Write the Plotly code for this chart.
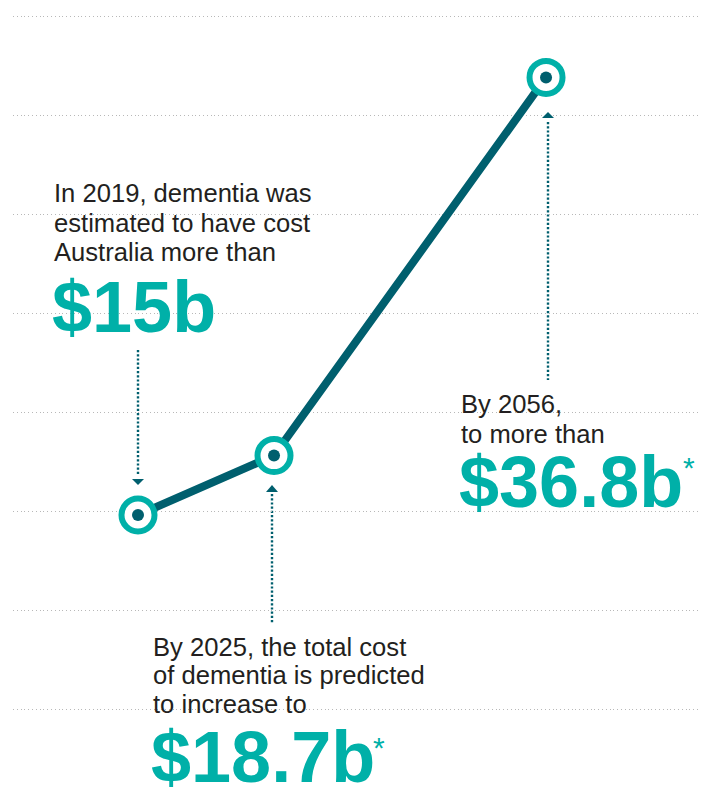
import plotly.graph_objects as go

# ---- data ----
years = ["2019", "2025", "2056"]
slots = [0, 1, 3]                     # horizontal slot of each year on the stylised axis
plotted_cost = [14.8, 17.8, 36.9]     # marker heights ($b)
labels_big = ["$15b", "$18.7b", "$36.8b"]
grid_values = [5, 10, 15, 20, 25, 30, 35, 40]

# ---- styles ----
DARK = "#005f6e"
TEAL = "#00b0a8"
TEXT = "#231f20"
FONT = "Liberation Sans, Arial, Helvetica, sans-serif"
W, H = 706, 800
ML, MR = 13, 6
XR = [-0.919, 4.132]
YR = [0.404, 40.81]

def xp(px):
    return (px - ML) / (W - ML - MR)

def yp(py):
    return 1 - py / H

def slot_px(s):
    return ML + (W - ML - MR) * (s - XR[0]) / (XR[1] - XR[0])

fig = go.Figure()
fig.add_trace(go.Scatter(
    x=slots, y=plotted_cost, mode="lines",
    line=dict(color=DARK, width=8), hoverinfo="skip", showlegend=False))
fig.add_trace(go.Scatter(
    x=slots, y=plotted_cost, mode="markers",
    marker=dict(size=33, color="white", line=dict(color=TEAL, width=6)),
    text=years, hoverinfo="text", showlegend=False))
fig.add_trace(go.Scatter(
    x=slots, y=plotted_cost, mode="markers",
    marker=dict(size=12, color=DARK), hoverinfo="skip", showlegend=False))

shapes = []
# white blocks hiding gridlines behind text
for (x0, y0, x1, y1) in [(43, 178, 323, 340), (450, 395, 572, 421),
                         (450, 448, 700, 516), (142, 695, 320, 721)]:
    shapes.append(dict(type="rect", xref="paper", yref="paper", layer="between",
                       x0=xp(x0), x1=xp(x1), y0=yp(y1), y1=yp(y0),
                       fillcolor="white", line=dict(width=0)))

# dotted arrows: (slot, line top, line bottom, tip y, base y)
arrows = [(slots[0], 350, 474, 485, 479),
          (slots[1], 494, 623, 485, 492),
          (slots[2], 122, 380, 112, 118)]
for s, ya, yb, tip, base in arrows:
    px = round(slot_px(s)) + (-2 if s == 1 else 2 if s == 3 else 0)
    shapes.append(dict(type="line", xref="paper", yref="paper", layer="between",
                       x0=xp(px), x1=xp(px), y0=yp(ya - 3), y1=yp(yb + 3),
                       line=dict(color="white", width=14)))
    shapes.append(dict(type="line", xref="paper", yref="paper", layer="between",
                       x0=xp(px), x1=xp(px), y0=yp(ya), y1=yp(yb),
                       line=dict(color=DARK, width=2.4, dash="2.2px,2px")))
    path = "M {} {} L {} {} L {} {} Z".format(
        xp(px - 6), yp(base), xp(px + 6), yp(base), xp(px), yp(tip))
    shapes.append(dict(type="path", xref="paper", yref="paper", layer="above",
                       path=path, fillcolor=DARK, line=dict(width=0)))

annotations = []
def ann(text, left, baseline, size, color, bold=False):
    annotations.append(dict(
        text=("<b>%s</b>" % text) if bold else text,
        xref="paper", yref="paper", x=xp(left), y=yp(baseline - 0.35 * size),
        xanchor="left", yanchor="middle", showarrow=False, align="left",
        borderpad=0, font=dict(family=FONT, size=size, color=color)))

S = 25.6
B = 72
ann("In 2019, dementia was", 53, 202, S, TEXT)
ann("estimated to have cost", 53, 232, S, TEXT)
ann("Australia more than", 53, 261, S, TEXT)
ann(labels_big[0], 51, 332, B, TEAL, True)

ann("By 2025, the total cost", 152, 656, S, TEXT)
ann("of dementia is predicted", 152, 684, S, TEXT)
ann("to increase to", 152, 713, S, TEXT)
ann(labels_big[1], 150, 782, B, TEAL, True)
ann("*", 372, 758, 30, TEAL)

ann("By 2056,", 460, 413, S, TEXT)
ann("to more than", 460, 443, S, TEXT)
ann(labels_big[2], 458, 507, B, TEAL, True)
ann("*", 682, 478, 30, TEAL)

fig.update_layout(
    width=W, height=H, margin=dict(l=ML, r=MR, t=0, b=0),
    paper_bgcolor="white", plot_bgcolor="white",
    xaxis=dict(range=XR, visible=False, fixedrange=True),
    yaxis=dict(range=YR, showgrid=True, gridcolor="#b8b8b8", gridwidth=1,
               griddash="1px,2.8px", tickmode="array", tickvals=grid_values,
               showticklabels=False, ticks="", zeroline=False, showline=False,
               fixedrange=True),
    shapes=shapes, annotations=annotations, showlegend=False)

fig.write_html("out.html", config={"displayModeBar": False},
               post_script="document.body.style.margin='0';")
